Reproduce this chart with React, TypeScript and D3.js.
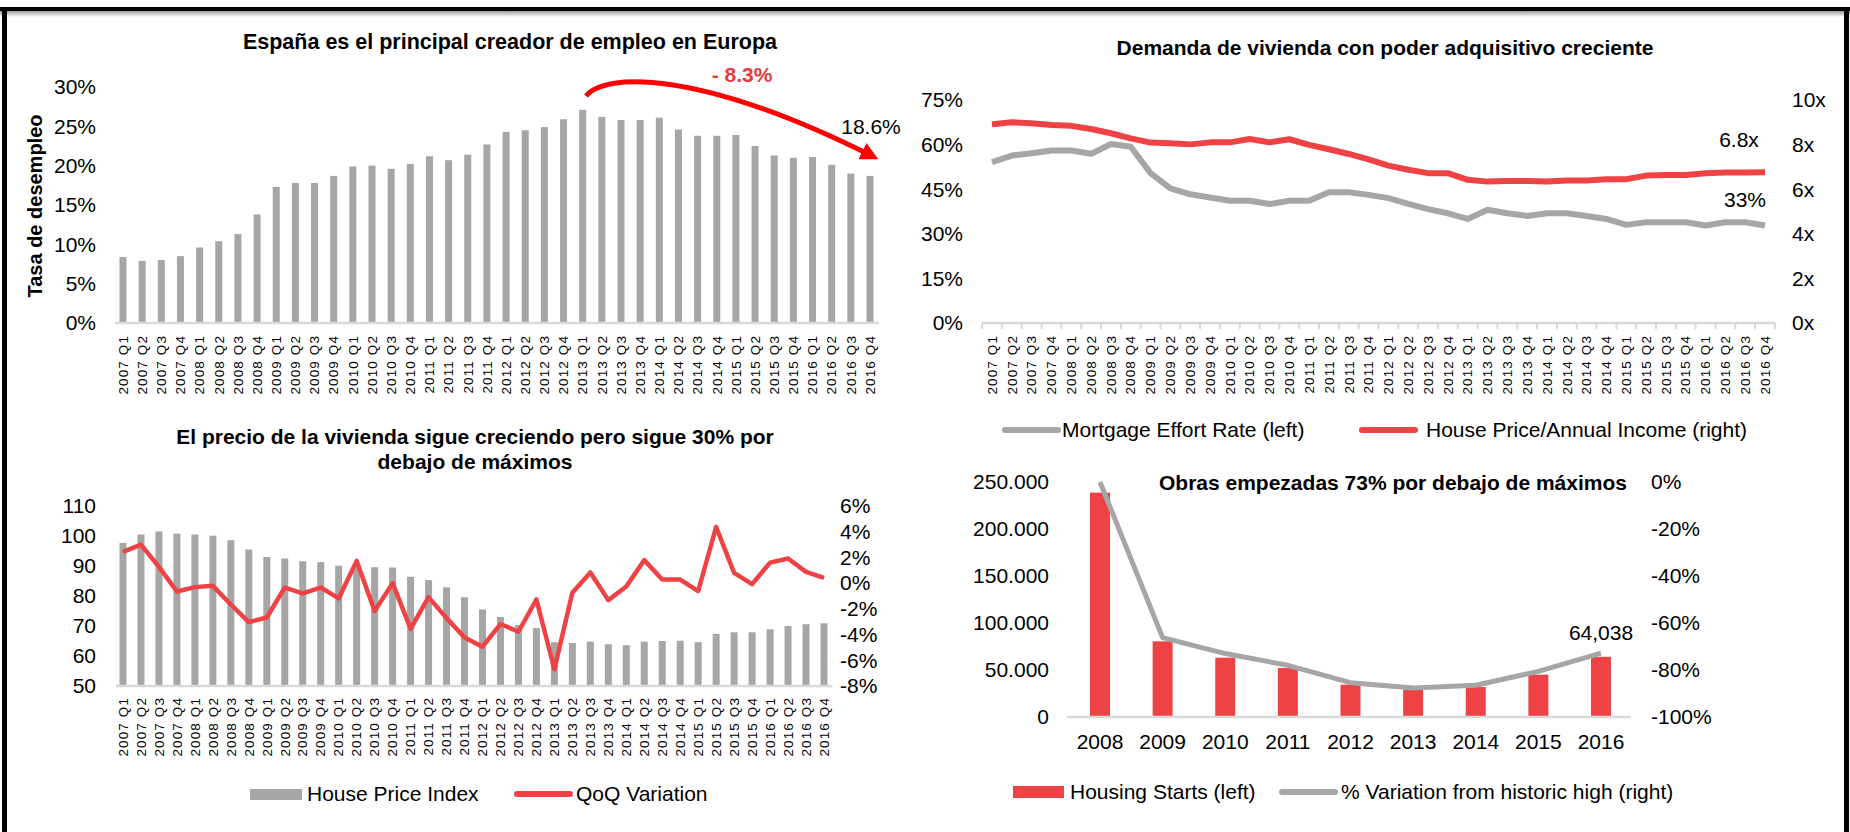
import React from "react";
import * as d3 from "d3";

const FONT = "'Liberation Sans', Arial, sans-serif";
const GRAY = "#a6a6a6";
const RED = "#ee4245";
const AXIS = "#d9d9d9";

const years = ["2007", "2008", "2009", "2010", "2011", "2012", "2013", "2014", "2015", "2016"];
const qs = ["Q1", "Q2", "Q3", "Q4"];
const quarters = years.flatMap((y) => qs.map((q) => `${y} ${q}`));

// tasa de desempleo (%)
const unemployment = [
  8.4, 7.9, 8.0, 8.5, 9.6, 10.4, 11.3, 13.8, 17.3, 17.8, 17.8, 18.7, 19.9, 20.0, 19.6, 20.2,
  21.2, 20.7, 21.4, 22.7, 24.3, 24.5, 24.9, 25.9, 27.1, 26.2, 25.8, 25.8, 26.1, 24.6, 23.8, 23.8,
  23.9, 22.5, 21.3, 21.0, 21.1, 20.1, 19.0, 18.7,
];

// mortgage effort rate (%) and price / income (x)
const effortRate = [
  54.1, 56.3, 57.1, 58.0, 58.0, 56.9, 60.2, 59.3, 50.4, 45.3, 43.3, 42.2, 41.1, 41.1, 40.0, 41.1,
  41.1, 44.0, 44.0, 43.1, 42.0, 40.1, 38.3, 36.9, 35.0, 38.1, 36.9, 36.0, 36.9, 36.9, 36.0, 35.0,
  33.0, 33.9, 33.9, 33.9, 32.8, 33.9, 33.9, 32.8,
];
const priceToIncome = [
  8.91, 9.0, 8.96, 8.88, 8.84, 8.7, 8.51, 8.28, 8.09, 8.06, 8.01, 8.1, 8.1, 8.25, 8.1, 8.24,
  7.99, 7.79, 7.58, 7.34, 7.06, 6.87, 6.72, 6.72, 6.42, 6.34, 6.37, 6.37, 6.34, 6.39, 6.39, 6.45,
  6.45, 6.61, 6.64, 6.64, 6.72, 6.75, 6.75, 6.76,
];

// house price index and QoQ variation (%)
const housePriceIndex = [
  97.7, 100.5, 101.5, 100.8, 100.5, 100.1, 98.6, 95.5, 93.0, 92.5, 91.6, 91.3, 90.1, 89.7, 89.6, 89.5,
  86.4, 85.3, 82.9, 79.6, 75.5, 73.0, 70.3, 69.3, 64.6, 64.3, 64.8, 63.9, 63.6, 64.8, 65.0, 65.1,
  64.6, 67.4, 67.9, 67.9, 68.9, 70.0, 70.6, 70.9,
];
const qoqVariation = [
  2.43, 3.0, 1.27, -0.65, -0.31, -0.21, -1.66, -3.03, -2.67, -0.34, -0.8, -0.34, -1.19, 1.73, -2.17, 0.0,
  -3.55, -1.09, -2.72, -4.22, -4.94, -3.18, -3.78, -1.27, -6.7, -0.75, 0.83, -1.32, -0.26, 1.79, 0.28, 0.28,
  -0.62, 4.37, 0.8, -0.08, 1.6, 1.92, 0.88, 0.41,
];

// housing starts
const startYears = ["2008", "2009", "2010", "2011", "2012", "2013", "2014", "2015", "2016"];
const housingStarts = [238700, 80500, 63100, 52100, 34400, 29100, 31900, 45000, 64038];
const fromHigh = [0, -66.2, -73.0, -78.0, -85.4, -87.7, -86.5, -80.6, -72.8];

const unemploymentTicks = [0, 5, 10, 15, 20, 25, 30];
const effortTicks = [0, 15, 30, 45, 60, 75];
const ratioTicks = [0, 2, 4, 6, 8, 10];
const hpiTicks = [50, 60, 70, 80, 90, 100, 110];
const qoqTicks = [-8, -6, -4, -2, 0, 2, 4, 6];
const startsTicks = [0, 50000, 100000, 150000, 200000, 250000];
const highTicks = [-100, -80, -60, -40, -20, 0];

const esFormat = d3.formatLocale({ decimal: ",", thousands: ".", grouping: [3], currency: ["", ""] }).format(",");

const YTicks = ({ scale, ticks, x, anchor, fmt }) => (
  <g fontSize={21} textAnchor={anchor}>
    {ticks.map((t) => (
      <text key={t} x={x} y={scale(t)} dy="0.35em">
        {fmt(t)}
      </text>
    ))}
  </g>
);

const QuarterLabels = ({ scale, top }) => (
  <g fontSize={13.5} textAnchor="end" letterSpacing={1.1}>
    {quarters.map((q) => (
      <text key={q} transform={`translate(${scale(q)}, ${top}) rotate(-90)`} dy="0.35em">
        {q}
      </text>
    ))}
  </g>
);

const App = () => {
  // panel 1
  const x1 = d3.scalePoint<string>().domain(quarters).range([123, 870]);
  const y1 = d3.scaleLinear().domain([0, 30]).range([323, 87]);

  // panel 2
  const x2 = d3.scalePoint<string>().domain(quarters).range([992, 1765]);
  const yl2 = d3.scaleLinear().domain([0, 75]).range([323, 100]);
  const yr2 = d3.scaleLinear().domain([0, 10]).range([323, 100]);
  const effortLine = d3.line<number>().x((_, i) => x2(quarters[i])).y((d) => yl2(d));
  const ratioLine = d3.line<number>().x((_, i) => x2(quarters[i])).y((d) => yr2(d));

  // panel 3
  const x3 = d3.scalePoint<string>().domain(quarters).range([123, 824]);
  const yl3 = d3.scaleLinear().domain([50, 110]).range([686, 506]);
  const yr3 = d3.scaleLinear().domain([-8, 6]).range([686, 506]);
  const qoqLine = d3.line<number>().x((_, i) => x3(quarters[i])).y((d) => yr3(d));

  // panel 4
  const x4 = d3.scalePoint<string>().domain(startYears).range([1100, 1601]);
  const yl4 = d3.scaleLinear().domain([0, 250000]).range([717, 482]);
  const yr4 = d3.scaleLinear().domain([-100, 0]).range([717, 482]);
  const highLine = d3.line<number>().x((_, i) => x4(startYears[i])).y((d) => yr4(d));

  const step2 = x2.step();

  return (
    <svg width={1850} height={832} style={{ position: "absolute", left: 0, top: 0 }} fontFamily={FONT}>
      <defs>
        <linearGradient id="shade" x1="0" y1="0" x2="0" y2="1">
          <stop offset="0" stopColor="#9a9a9a" />
          <stop offset="1" stopColor="#ffffff" />
        </linearGradient>
        <marker id="head" viewBox="0 0 10 10" refX="6" refY="5" markerWidth="18" markerHeight="18"
          markerUnits="userSpaceOnUse" orient="auto">
          <path d="M0,0 L10,5 L0,10 z" fill="#f00" />
        </marker>
      </defs>
      <rect width={1850} height={832} fill="#fff" />

      {/* frame */}
      <rect x={0} y={11} width={1850} height={6} fill="url(#shade)" />
      <rect x={0} y={7} width={1850} height={4} fill="#000" />
      <rect x={2} y={7} width={5} height={825} fill="#000" />
      <rect x={1844} y={7} width={5} height={825} fill="#000" />

      {/* ---- panel 1 ---- */}
      <text x={510} y={49} textAnchor="middle" fontSize={21.5} fontWeight="bold">
        España es el principal creador de empleo en Europa
      </text>
      <text transform="translate(35, 206) rotate(-90)" textAnchor="middle" dy="0.35em" fontSize={20} fontWeight="bold">
        Tasa de desempleo
      </text>
      <YTicks scale={y1} ticks={unemploymentTicks} x={96} anchor="end" fmt={(t) => `${t}%`} />
      {unemployment.map((v, i) => (
        <rect key={i} x={x1(quarters[i]) - 3.5} y={y1(v)} width={7} height={y1(0) - y1(v)} fill={GRAY} />
      ))}
      <line x1={115} x2={879} y1={y1(0)} y2={y1(0)} stroke={AXIS} strokeWidth={2.5} />
      <QuarterLabels scale={x1} top={335} />
      <path d="M586,96 C605,72 700,70 872,156" fill="none" stroke="#f00" strokeWidth={5} markerEnd="url(#head)" />
      <text x={742} y={75} dy="0.35em" textAnchor="middle" fontSize={21} fontWeight="bold" fill="#e8393c">
        - 8.3%
      </text>
      <text x={871} y={127} dy="0.35em" textAnchor="middle" fontSize={21}>
        18.6%
      </text>

      {/* ---- panel 2 ---- */}
      <text x={1385} y={55} textAnchor="middle" fontSize={21} fontWeight="bold">
        Demanda de vivienda con poder adquisitivo creciente
      </text>
      <YTicks scale={yl2} ticks={effortTicks} x={963} anchor="end" fmt={(t) => `${t}%`} />
      <YTicks scale={yr2} ticks={ratioTicks} x={1792} anchor="start" fmt={(t) => `${t}x`} />
      <line x1={x2(quarters[0]) - step2 / 2} x2={x2(quarters[39]) + step2 / 2} y1={yl2(0)} y2={yl2(0)} stroke={AXIS} strokeWidth={2.5} />
      {d3.range(quarters.length + 1).map((i) => {
        const xx = x2(quarters[0]) - step2 / 2 + i * step2;
        return <line key={i} x1={xx} x2={xx} y1={yl2(0)} y2={yl2(0) + 6} stroke={AXIS} strokeWidth={2} />;
      })}
      <path d={effortLine(effortRate)} fill="none" stroke={GRAY} strokeWidth={6} strokeLinejoin="round" />
      <path d={ratioLine(priceToIncome)} fill="none" stroke={RED} strokeWidth={6} strokeLinejoin="round" />
      <QuarterLabels scale={x2} top={335} />
      <text x={1739} y={140} dy="0.35em" textAnchor="middle" fontSize={21}>6.8x</text>
      <text x={1745} y={200} dy="0.35em" textAnchor="middle" fontSize={21}>33%</text>
      <g fontSize={21}>
        <line x1={1005} x2={1058} y1={430} y2={430} stroke={GRAY} strokeWidth={6} strokeLinecap="round" />
        <text x={1062} y={430} dy="0.35em">Mortgage Effort Rate (left)</text>
        <line x1={1362} x2={1415} y1={430} y2={430} stroke={RED} strokeWidth={6} strokeLinecap="round" />
        <text x={1426} y={430} dy="0.35em">House Price/Annual Income (right)</text>
      </g>

      {/* ---- panel 3 ---- */}
      <text x={475} y={444} textAnchor="middle" fontSize={21} fontWeight="bold">
        El precio de la vivienda sigue creciendo pero sigue 30% por
      </text>
      <text x={475} y={469} textAnchor="middle" fontSize={21} fontWeight="bold">
        debajo de máximos
      </text>
      <YTicks scale={yl3} ticks={hpiTicks} x={96} anchor="end" fmt={(t) => `${t}`} />
      <YTicks scale={yr3} ticks={qoqTicks} x={840} anchor="start" fmt={(t) => `${t}%`} />
      {housePriceIndex.map((v, i) => (
        <rect key={i} x={x3(quarters[i]) - 3.5} y={yl3(v)} width={7} height={yl3(50) - yl3(v)} fill={GRAY} />
      ))}
      <line x1={116} x2={832} y1={yl3(50)} y2={yl3(50)} stroke={AXIS} strokeWidth={2.5} />
      <path d={qoqLine(qoqVariation)} fill="none" stroke={RED} strokeWidth={4.5} strokeLinejoin="round" />
      <QuarterLabels scale={x3} top={697} />
      <g fontSize={21}>
        <rect x={250} y={789} width={52} height={11} fill={GRAY} />
        <text x={307} y={794} dy="0.35em">House Price Index</text>
        <line x1={517} x2={570} y1={794} y2={794} stroke={RED} strokeWidth={6} strokeLinecap="round" />
        <text x={576} y={794} dy="0.35em">QoQ Variation</text>
      </g>

      {/* ---- panel 4 ---- */}
      <YTicks scale={yl4} ticks={startsTicks} x={1049} anchor="end" fmt={(t) => esFormat(t)} />
      <YTicks scale={yr4} ticks={highTicks} x={1651} anchor="start" fmt={(t) => `${t}%`} />
      {housingStarts.map((v, i) => (
        <rect key={i} x={x4(startYears[i]) - 10} y={yl4(v)} width={20} height={yl4(0) - yl4(v)} fill={RED} />
      ))}
      <line x1={1067} x2={1631} y1={yl4(0)} y2={yl4(0)} stroke={AXIS} strokeWidth={2.5} />
      <path d={highLine(fromHigh)} fill="none" stroke={GRAY} strokeWidth={5} strokeLinejoin="round" />
      <text x={1393} y={490} textAnchor="middle" fontSize={21} fontWeight="bold">
        Obras empezadas 73% por debajo de máximos
      </text>
      <g fontSize={21} textAnchor="middle">
        {startYears.map((yr) => (
          <text key={yr} x={x4(yr)} y={742} dy="0.35em">{yr}</text>
        ))}
      </g>
      <text x={1601} y={633} dy="0.35em" textAnchor="middle" fontSize={21}>64,038</text>
      <g fontSize={21} style={{ whiteSpace: "pre" }}>
        <rect x={1013} y={786} width={51} height={12} fill={RED} />
        <text x={1070} y={792} dy="0.35em">{"Housing Starts  (left)"}</text>
        <line x1={1282} x2={1335} y1={792} y2={792} stroke={GRAY} strokeWidth={6} strokeLinecap="round" />
        <text x={1341} y={792} dy="0.35em">% Variation from historic high (right)</text>
      </g>
    </svg>
  );
};

export default App;
